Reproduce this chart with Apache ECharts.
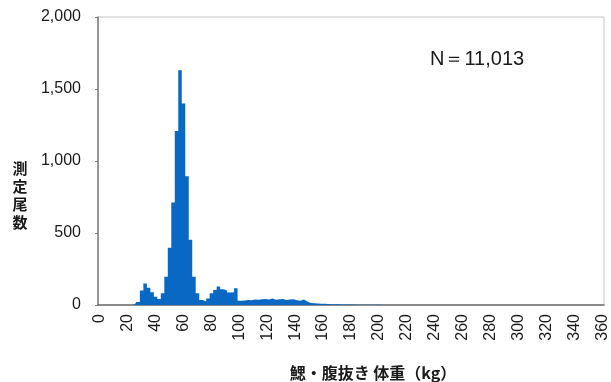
<!DOCTYPE html>
<html>
<head>
<meta charset="utf-8">
<script src="https://cdn.jsdelivr.net/npm/echarts@6/dist/echarts.min.js"></script>
<style>
  html, body { margin: 0; padding: 0; background: #fff; }
  #chart { width: 611px; height: 382px; }
</style>
</head>
<body>
<div id="chart"></div>
<script>
// Weight classes (kg), 2.5 kg wide, from 0 to 360
const binWidth = 2.5;
const binCount = 145;
const weightBins = Array.from({ length: binCount }, (_, i) => String(i * binWidth));

// Number of fish measured in each weight class
const fishCounts = [
  0, 0, 0, 0, 0, 0, 0, 0, 0, 0,
  3, 20, 100, 150, 120, 88, 58, 42, 81, 197,
  397, 711, 1208, 1630, 1400, 894, 453, 197, 81, 35,
  25, 46, 81, 105, 128, 110, 100, 86, 88, 116,
  30, 32, 35, 33, 38, 36, 40, 42, 38, 45,
  36, 40, 42, 35, 38, 40, 33, 30, 38, 25,
  14, 12, 11, 9, 8, 7, 6, 5, 5, 4,
  4, 3, 3, 2, 2, 2, 2, 1, 1, 1,
  1, 0, 0, 0, 0, 0, 0, 0, 0, 0,
  0, 0, 0, 0, 0, 0, 0, 0, 0, 0,
  0, 0, 0, 0, 0, 0, 0, 0, 0, 0,
  0, 0, 0, 0, 0, 0, 0, 0, 0, 0,
  0, 0, 0, 0, 0, 0, 0, 0, 0, 0,
  0, 0, 0, 0, 0, 0, 0, 0, 0, 0,
  0, 0, 0, 0, 0
];

// Axis settings
const yTicks = { min: 0, max: 2000, interval: 500 };
const xLabelEvery = 8; // one label per 20 kg

const totalLabel = 'N＝11,013';
const xTitle = '鰓・腹抜き 体重（kg）';
const yTitle = '測定尾数';

const latinFont = '"Liberation Sans", Arial, sans-serif';
const cjkFont = '"Noto Sans CJK JP", "Noto Sans", sans-serif';
const textColor = '#1a1a1a';
const barColor = '#0868c4';

const chart = echarts.init(document.getElementById('chart'), null, { renderer: 'canvas' });

chart.setOption({
  animation: false,
  backgroundColor: '#fff',
  grid: {
    left: 98, right: 7, top: 17, bottom: 77,
    show: true,
    borderColor: '#c4c4c4',
    borderWidth: 1,
    backgroundColor: 'transparent'
  },
  xAxis: {
    type: 'category',
    data: weightBins,
    boundaryGap: true,
    axisLine: { show: true, lineStyle: { color: '#6e6e6e', width: 1.5 } },
    axisTick: { show: false },
    axisLabel: {
      interval: xLabelEvery - 1,
      rotate: 90,
      margin: 9,
      color: textColor,
      fontSize: 16,
      fontFamily: latinFont
    },
    splitLine: { show: false }
  },
  yAxis: {
    type: 'value',
    min: yTicks.min,
    max: yTicks.max,
    interval: yTicks.interval,
    axisLine: { show: true, lineStyle: { color: '#7a7a7a', width: 1.5 } },
    axisTick: { show: true, length: 3, lineStyle: { color: '#7a7a7a' } },
    axisLabel: {
      margin: 17,
      color: textColor,
      fontSize: 16,
      fontFamily: latinFont,
      formatter: v => v.toLocaleString('en-US')
    },
    splitLine: { show: false }
  },
  series: [{
    // Histogram drawn as a filled step outline: each class is a flat
    // top spanning its own category band, with no seams between columns.
    type: 'line',
    data: fishCounts,
    step: 'middle',
    symbol: 'none',
    lineStyle: { width: 0 },
    areaStyle: { color: barColor, opacity: 1 },
    z: 1,
    emphasis: { disabled: true }
  }],
  graphic: [
    {
      type: 'text',
      left: 430, top: 49,
      style: {
        text: totalLabel,
        fill: textColor,
        font: '20px ' + latinFont
      }
    },
    {
      type: 'text',
      x: 20, y: 195,
      style: {
        text: yTitle.split('').join('\n'),
        fill: textColor,
        font: 'bold 15px ' + cjkFont,
        lineHeight: 18,
        align: 'center',
        verticalAlign: 'middle'
      }
    },
    {
      type: 'text',
      x: 373, y: 373,
      style: {
        text: xTitle,
        fill: textColor,
        font: 'bold 16px ' + cjkFont,
        align: 'center',
        verticalAlign: 'middle'
      }
    }
  ]
});
</script>
</body>
</html>
